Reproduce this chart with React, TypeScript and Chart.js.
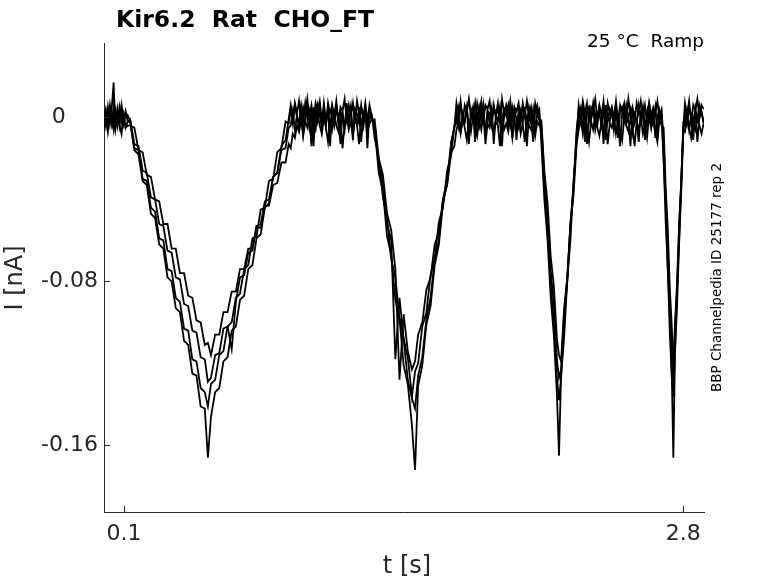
import { useEffect, useRef } from 'react'
import { Chart, registerables } from 'chart.js'
import type { Plugin } from 'chart.js'

Chart.register(...registerables)

// sample times of the recorded sweeps, in ms
const timeMs = [
  3, 12, 22, 32, 42, 50, 58, 68, 78, 88, 98, 108, 118,
  130, 150, 170, 190, 210, 230, 250, 270, 290, 310, 330, 350, 370, 390, 410, 430, 450, 470, 490, 505,
  520, 540, 560, 580, 600, 620, 640, 660, 680, 700, 720, 740, 760, 780, 800, 820, 840, 860, 880, 895,
  905, 915, 925, 935, 945, 955, 965, 975, 985, 995, 1005, 1015, 1025, 1035, 1045, 1055, 1065, 1075, 1085, 1095,
  1105, 1115, 1125, 1135, 1145, 1155, 1165, 1175, 1185, 1195, 1205, 1215, 1225, 1235, 1245, 1255, 1265, 1275, 1285, 1295,
  1310, 1330, 1350, 1370, 1390, 1410, 1430, 1450, 1470, 1490,
  1505, 1520, 1540, 1560, 1580, 1600, 1620, 1640, 1660, 1680, 1695,
  1705, 1715, 1725, 1735, 1745, 1755, 1765, 1775, 1785, 1795, 1805, 1815, 1825, 1835, 1845, 1855, 1865, 1875, 1885, 1895,
  1905, 1915, 1925, 1935, 1945, 1955, 1965, 1975, 1985, 1995, 2005, 2015, 2025, 2035, 2045, 2055, 2065, 2075, 2085, 2095, 2105,
  2115, 2130, 2145, 2160, 2175, 2190, 2200, 2210, 2225, 2240, 2255, 2270, 2285,
  2295, 2305, 2315, 2325, 2335, 2345, 2355, 2365, 2375, 2385, 2395, 2405, 2415, 2425, 2435, 2445, 2455, 2465, 2475, 2485,
  2495, 2505, 2515, 2525, 2535, 2545, 2555, 2565, 2575, 2585, 2595, 2605, 2615, 2625, 2635, 2645, 2655, 2665, 2675, 2685, 2695,
  2705, 2715, 2725, 2735, 2745, 2752, 2760, 2770, 2780, 2790, 2800,
  2808, 2818, 2828, 2838, 2848, 2858, 2868, 2878, 2888, 2898,
]

// current of each sweep, in pA
const sweep1 = [
  2, -4, 5, -3, 6, 17, -5, 4, -4, 5, -3, 3, -2,
  -2, -16, -18, -31, -33, -47, -49, -62, -64, -78, -80, -93, -95, -109, -111, -125, -126, -141, -142, -166,
  -146, -134, -132, -119, -117, -104, -102, -89, -87, -74, -72, -59, -57, -44, -42, -29, -27, -14, -11, -1,
  6, -1, 7, 2, 8, -3, 5, 1, 9, 0, 6, -2, 7, 3, 8, -1, 5, -4, 7, 2,
  6, 0, 8, -2, 5, 3, 9, -1, 6, 1, 7, -3, 8, 2, 5, 0, 7, -2, 6, 1,
  -5, -27, -36, -58, -67, -89, -98, -121, -130, -150,
  -172, -131, -121, -101, -92, -72, -62, -42, -32, -12, -5,
  7, 1, 8, -2, 6, 3, 9, 0, 5, -3, 7, 2, 8, -1, 6, 4, 8, -2, 5, 1,
  7, -3, 9, 2, 6, 0, 8, -1, 5, 3, 7, -2, 6, 1, 8, 0, 5, -3, 7, 2, 4,
  -13, -41, -60, -88, -106, -135, -165, -126, -107, -79, -60, -31, -12,
  6, 0, 8, 2, 7, -2, 5, 3, 9, -1, 6, 1, 8, -3, 7, 2, 5, 0, 8, -2,
  6, 3, 7, -1, 9, 1, 5, -2, 7, 2, 8, 0, 6, -3, 7, 1, 5, 2, 8, -1, 3,
  -19, -51, -73, -105, -128, -166, -114, -92, -60, -37, -6,
  7, 1, 8, -2, 6, 3, 9, 0, 6, 4,
]

const sweep2 = [
  0, 4, -3, 6, -2, 5, -4, 3, -1, 6, -3, 2, 1,
  -2, -15, -16, -30, -31, -44, -46, -59, -60, -74, -75, -88, -90, -103, -104, -118, -119, -132, -134, -141,
  -130, -128, -116, -114, -102, -100, -88, -86, -74, -72, -59, -58, -45, -44, -31, -30, -17, -15, -2, -3,
  4, -3, 6, 0, -5, 5, -2, 7, -1, 3, -12, 5, -3, 6, 1, -4, 7, -2, 4, -14,
  5, -1, 6, -3, 3, 0, -6, 7, -2, 5, -11, 4, 1, -3, 6, -1, 5, -15, 3, 2,
  -10, -20, -39, -49, -69, -78, -98, -108, -128, -137,
  -142, -126, -117, -98, -88, -69, -60, -40, -31, -12, -5,
  3, -4, 6, 1, -2, 5, -13, 4, 0, 7, -3, 5, -1, 6, -10, 3, 2, -4, 6, 0,
  5, -2, -14, 4, 1, 6, -3, 5, 0, -11, 4, -2, 7, 1, -4, 5, 0, -12, 3, 6, -1,
  -8, -36, -54, -82, -100, -127, -138, -127, -99, -80, -52, -34, -6,
  4, -2, 6, -12, 3, 5, -1, 7, 0, -4, 5, 2, -13, 6, -2, 4, 1, -3, 7, -10,
  3, 5, -1, 6, 0, -14, 4, 2, -3, 6, -1, 5, -11, 3, 7, 0, -2, 5, -9, 4, 1,
  -21, -43, -74, -96, -127, -136, -114, -83, -61, -30, -8,
  3, -3, 5, 0, -11, 4, -1, 6, 2, -2,
]

const sweep3 = [
  -3, 2, -5, 4, -1, -6, 3, -4, 5, -2, 2, -5, -2,
  -1, -13, -14, -26, -27, -39, -40, -52, -53, -65, -66, -78, -79, -91, -92, -104, -105, -117, -118, -129,
  -127, -116, -115, -103, -102, -113, -90, -78, -77, -66, -65, -53, -52, -41, -40, -29, -27, -16, -15, -5,
  -4, 3, -6, 1, -3, 5, -8, 0, 4, -5, 2, -14, 3, -2, 5, -6, 1, -3, 4, -9,
  2, -4, 5, -1, -13, 3, -5, 2, -2, 4, -7, 1, -3, 5, -12, 0, 3, -4, 2, -1,
  -3, -23, -31, -52, -60, -118, -88, -108, -117, -136,
  -124, -120, -102, -95, -77, -69, -51, -44, -26, -18, -4,
  -3, 4, -6, 1, -2, 5, -5, 0, 3, -12, 2, -4, 5, -1, -7, 3, -3, 4, -13, 1,
  -2, 5, -6, 0, 3, -4, 2, -10, 4, -1, -5, 3, -2, 5, -14, 1, -3, 4, -6, 2, -1,
  -4, -31, -48, -75, -91, -118, -127, -123, -95, -79, -52, -35, -8,
  -2, 4, -5, 1, -13, 3, -1, 5, -6, 0, 2, -4, 5, -11, 1, -2, 4, -6, 3, -1,
  -14, 2, 5, -3, 0, 4, -7, 1, -2, -12, 3, 5, -4, 0, 2, -5, 4, -10, 1, -2, 3,
  -10, -41, -61, -92, -112, -130, -104, -84, -54, -33, -3,
  -4, 3, -6, 1, -2, 4, -12, 0, 3, -3,
]

const sweep4 = [
  -5, 1, -7, 2, -4, 0, -6, 3, -3, -8, 1, -5, -4,
  -4, -5, -16, -17, -28, -29, -40, -41, -52, -52, -64, -64, -76, -76, -87, -88, -99, -100, -111, -110,
  -116, -106, -106, -95, -95, -85, -85, -74, -74, -64, -64, -53, -54, -43, -43, -33, -32, -22, -22, -13,
  -15, -8, -10, -4, -7, 0, -9, -2, -5, 1, -14, -3, -6, 2, -4, -8, 0, -5, -12, -1,
  -6, 2, -4, -7, -1, -15, -3, 1, -6, -2, -9, 0, -4, -13, -1, -5, 2, -7, -3, -1,
  -1, -20, -28, -47, -55, -74, -128, -96, -114, -123,
  -119, -106, -100, -84, -78, -62, -56, -40, -33, -17, -14,
  -6, -2, -8, 0, -5, -11, -2, -7, 1, -4, -9, -1, -6, 2, -13, -3, -5, 0, -8, -2,
  -4, -14, 1, -6, -3, -7, 0, -10, -2, -5, 1, -8, -3, -12, 0, -4, -6, -1, -9, -2, -4,
  -2, -27, -42, -68, -82, -108, -116, -119, -93, -78, -53, -38, -13,
  -6, -1, -8, 0, -4, -12, -2, -6, 1, -5, -9, -2, -7, 0, -13, -3, -5, 1, -8, -2,
  -6, -11, 0, -4, -7, -1, -5, -14, -2, -6, 0, -8, -3, -10, 1, -5, -2, -7, -12, -1, -4,
  -5, -34, -54, -83, -103, -124, -100, -81, -51, -32, -6,
  -7, -1, -5, -10, -2, -6, 0, -4, -8, -3,
]

const sweeps = [sweep1, sweep2, sweep3, sweep4]

const xTicks = [0.1, 2.8]
const yTicks = [-0.16, -0.08, 0]

const chartTitle = 'Kir6.2  Rat  CHO_FT'
const conditionLabel = '25 °C  Ramp'
const sourceLabel = 'BBP Channelpedia ID 25177 rep 2'
const xLabel = 't [s]'
const yLabel = 'I [nA]'

const FONT = '"DejaVu Sans", "Noto Sans", sans-serif'
const AXIS_COLOR = '#262626'

// matlab style: ticks pointing inwards, title and side notes
const matlabDecor: Plugin<'line'> = {
  id: 'matlabDecor',
  afterDraw(chart) {
    const { ctx, chartArea, scales } = chart
    const { left, right, top, bottom } = chartArea
    ctx.save()

    ctx.strokeStyle = AXIS_COLOR
    ctx.lineWidth = 1
    ctx.beginPath()
    xTicks.forEach((v) => {
      const x = Math.round(scales.x.getPixelForValue(v)) + 0.5
      ctx.moveTo(x, bottom)
      ctx.lineTo(x, bottom - 6)
    })
    yTicks.forEach((v) => {
      const y = Math.round(scales.y.getPixelForValue(v)) + 0.5
      ctx.moveTo(left, y)
      ctx.lineTo(left + 6, y)
    })
    ctx.stroke()

    ctx.fillStyle = '#000'
    ctx.textBaseline = 'alphabetic'
    ctx.font = `bold 23.5px ${FONT}`
    ctx.textAlign = 'left'
    ctx.fillText(chartTitle, 116, 27)

    ctx.font = `18.5px ${FONT}`
    ctx.textAlign = 'right'
    ctx.fillText(conditionLabel, right, 47)

    ctx.save()
    ctx.translate(721, (top + bottom) / 2)
    ctx.rotate(-Math.PI / 2)
    ctx.font = `13.5px ${FONT}`
    ctx.textAlign = 'center'
    ctx.fillText(sourceLabel, 0, 0)
    ctx.restore()

    ctx.fillStyle = AXIS_COLOR
    ctx.font = `24px ${FONT}`
    ctx.textAlign = 'center'
    ctx.textBaseline = 'middle'
    ctx.fillText(xLabel, 407, 567)
    ctx.save()
    ctx.translate(16, 278)
    ctx.rotate(-Math.PI / 2)
    ctx.fillText(yLabel, 0, 0)
    ctx.restore()

    ctx.restore()
  },
}

export default function App() {
  const canvasRef = useRef<HTMLCanvasElement>(null)

  useEffect(() => {
    if (!canvasRef.current) return

    const chart = new Chart(canvasRef.current, {
      type: 'line',
      data: {
        datasets: sweeps.map((sweep, k) => ({
          label: `sweep ${k + 1}`,
          data: timeMs.map((t, i) => ({ x: t / 1000, y: sweep[i] / 1000 })),
          borderColor: '#000',
          borderWidth: 1.8,
          pointRadius: 0,
          tension: 0,
          fill: false,
        })),
      },
      options: {
        responsive: true,
        maintainAspectRatio: false,
        animation: false,
        layout: { padding: { left: 0, right: 74, top: 43, bottom: 0 } },
        plugins: {
          legend: { display: false },
          tooltip: { enabled: false },
        },
        scales: {
          x: {
            type: 'linear',
            min: 0.0035,
            max: 2.9,
            afterBuildTicks: (scale) => {
              scale.ticks = xTicks.map((value) => ({ value }))
            },
            afterFit: (scale) => {
              scale.height = 71
            },
            grid: { drawOnChartArea: false, drawTicks: false },
            border: { color: AXIS_COLOR, width: 1 },
            ticks: {
              font: { family: FONT, size: 22 },
              color: AXIS_COLOR,
              padding: 9,
              maxRotation: 0,
              autoSkip: false,
              callback: (value) => String(value),
            },
          },
          y: {
            type: 'linear',
            min: -0.1925,
            max: 0.0363,
            afterBuildTicks: (scale) => {
              scale.ticks = yTicks.map((value) => ({ value }))
            },
            afterFit: (scale) => {
              scale.width = 104
            },
            grid: { drawOnChartArea: false, drawTicks: false },
            border: { color: AXIS_COLOR, width: 1 },
            ticks: {
              font: { family: FONT, size: 22 },
              color: AXIS_COLOR,
              padding: 6,
              autoSkip: false,
              // the zero label is padded like the matlab char matrix
              callback: (value) => (value === 0 ? '0\u2009    ' : String(value)),
            },
          },
        },
      },
      plugins: [matlabDecor],
    })

    return () => {
      chart.destroy()
    }
  }, [])

  return (
    <div style={{ position: 'absolute', left: 0, top: 0, width: 778, height: 583, background: '#fff' }}>
      <canvas ref={canvasRef}></canvas>
    </div>
  )
}
